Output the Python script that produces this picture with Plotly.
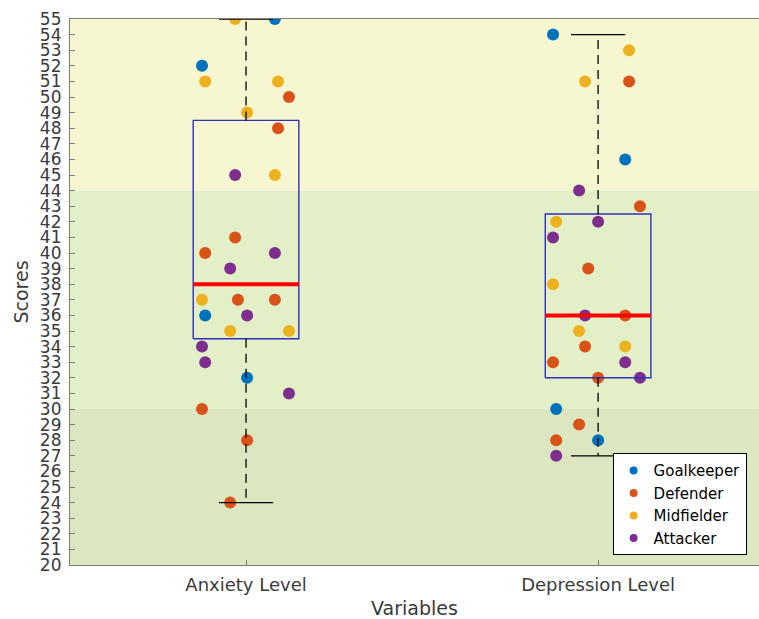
import plotly.graph_objects as go

# ---- data -------------------------------------------------------------
variables = ["Anxiety Level", "Depression Level"]
roles = ["Goalkeeper", "Defender", "Midfielder", "Attacker"]
role_colors = ["#0072BD", "#D95319", "#EDB120", "#7E2F8E"]

# Individual scores per variable, with player role and horizontal jitter
anxiety_scores = [55, 52, 36, 32,
                  50, 48, 41, 40, 37, 37, 30, 28, 24,
                  55, 51, 51, 49, 45, 37, 35, 35,
                  45, 40, 39, 36, 34, 33, 31]
anxiety_roles = (["Goalkeeper"] * 4 + ["Defender"] * 9 +
                 ["Midfielder"] * 8 + ["Attacker"] * 7)
anxiety_jitter = [0.082, -0.125, -0.116, 0.003,
                  0.122, 0.091, -0.031, -0.116, -0.023, 0.082, -0.125, 0.003, -0.045,
                  -0.031, -0.116, 0.091, 0.003, 0.082, -0.125, -0.045, 0.122,
                  -0.031, 0.082, -0.045, 0.003, -0.125, -0.116, 0.122]

depression_scores = [54, 46, 30, 28,
                     51, 43, 39, 36, 34, 33, 32, 29, 28,
                     53, 51, 42, 38, 35, 34,
                     44, 42, 41, 36, 33, 32, 27]
depression_roles = (["Goalkeeper"] * 4 + ["Defender"] * 9 +
                    ["Midfielder"] * 6 + ["Attacker"] * 7)
depression_jitter = [-0.128, 0.077, -0.119, 0.0,
                     0.088, 0.119, -0.028, 0.077, -0.037, -0.128, 0.0, -0.054, -0.119,
                     0.088, -0.037, -0.119, -0.128, -0.054, 0.077,
                     -0.054, 0.0, -0.128, -0.037, 0.077, 0.119, -0.119]

# Box-plot summary statistics for each variable
box_q1 = [34.5, 32.0]
box_median = [38.0, 36.0]
box_q3 = [48.5, 42.5]
whisker_low = [24, 27]
whisker_high = [55, 54]

# Score bands shaded behind the plot
band_edges = [20, 30, 44, 55]
band_colors = ["#DCE7C1", "#E3EFC6", "#F6F6D1"]

y_ticks = list(range(20, 56))

# ---- figure -------------------------------------------------------------
FONT = "DejaVu Sans"
TEXT = "#3a3a3a"
AXIS = "#7d7d72"
BOX_HALF = 0.15
CAP_HALF = 0.077

fig = go.Figure()

for lo, hi, col in zip(band_edges[:-1], band_edges[1:], band_colors):
    fig.add_shape(type="rect", xref="paper", yref="y", x0=0, x1=1, y0=lo, y1=hi,
                  fillcolor=col, line_width=0, layer="below")

groups = [(1, anxiety_scores, anxiety_roles, anxiety_jitter),
          (2, depression_scores, depression_roles, depression_jitter)]

# scatter of individual players, one trace per role and variable
for role, color in zip(roles, role_colors):
    for pos, scores, rlist, jit in groups:
        xs = [pos + j for s, r, j in zip(scores, rlist, jit) if r == role]
        ys = [s for s, r in zip(scores, rlist) if r == role]
        fig.add_trace(go.Scatter(x=xs, y=ys, mode="markers",
                                 marker=dict(color=color, size=12),
                                 showlegend=False, hoverinfo="y"))
    # compact legend entry
    fig.add_trace(go.Scatter(x=[None], y=[None], mode="markers", name=role,
                             marker=dict(color=color, size=8)))

# box plots drawn on top of the points
for i in range(len(variables)):
    c = i + 1
    fig.add_trace(go.Scatter(
        x=[c - BOX_HALF, c + BOX_HALF, c + BOX_HALF, c - BOX_HALF, c - BOX_HALF],
        y=[box_q1[i], box_q1[i], box_q3[i], box_q3[i], box_q1[i]],
        mode="lines", line=dict(color="#3030bb", width=1.4),
        showlegend=False, hoverinfo="skip"))
    fig.add_trace(go.Scatter(
        x=[c, c, None, c, c],
        y=[box_q3[i], whisker_high[i], None, box_q1[i], whisker_low[i]],
        mode="lines", line=dict(color="black", width=1.3, dash="9px,6px"),
        showlegend=False, hoverinfo="skip"))
    fig.add_trace(go.Scatter(
        x=[c - CAP_HALF, c + CAP_HALF, None, c - CAP_HALF, c + CAP_HALF],
        y=[whisker_high[i], whisker_high[i], None, whisker_low[i], whisker_low[i]],
        mode="lines", line=dict(color="black", width=1.3),
        showlegend=False, hoverinfo="skip"))
    fig.add_trace(go.Scatter(
        x=[c - BOX_HALF, c + BOX_HALF], y=[box_median[i], box_median[i]],
        mode="lines", line=dict(color="#ff0000", width=4),
        showlegend=False, hoverinfo="skip"))

fig.update_layout(
    width=759, height=619,
    margin=dict(l=70, r=0, t=19, b=54),
    paper_bgcolor="white", plot_bgcolor="white",
    font=dict(family=FONT, color=TEXT),
    showlegend=True,
    legend=dict(x=0.982, y=0.018, xanchor="right", yanchor="bottom",
                bgcolor="white", bordercolor="black", borderwidth=1,
                font=dict(size=15, color="black"), tracegroupgap=0,
                itemwidth=30),
    xaxis=dict(range=[0.5, 2.457], tickvals=[1, 2], ticktext=variables,
               showgrid=False, zeroline=False, showline=True, linecolor=AXIS,
               linewidth=1.2, mirror=True, ticks="inside", ticklen=5,
               tickcolor=AXIS, tickfont=dict(size=18, color=TEXT),
               ticklabelstandoff=3,
               title=dict(text="Variables", font=dict(size=19, color=TEXT),
                          standoff=10)),
    yaxis=dict(range=[20, 55], tickvals=y_ticks, showgrid=False, zeroline=False,
               showline=True, linecolor=AXIS, linewidth=1.2, ticks="inside",
               ticklen=5, tickcolor=AXIS, tickfont=dict(size=17, color=TEXT),
               ticklabelstandoff=4,
               title=dict(text="Scores", font=dict(size=19, color=TEXT),
                          standoff=6)),
)

fig.write_html("out.html")
